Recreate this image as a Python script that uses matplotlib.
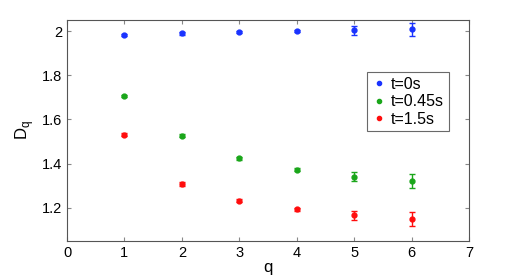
import matplotlib
matplotlib.use('Agg')
import matplotlib.pyplot as plt
from matplotlib.lines import Line2D

plt.rcParams['font.family'] = ['Liberation Sans', 'DejaVu Sans']

q = [1, 2, 3, 4, 5, 6]
d_t0 = [1.982, 1.989, 1.995, 2.000, 2.004, 2.008]
e_t0 = [0.006, 0.006, 0.006, 0.006, 0.020, 0.030]
d_t045 = [1.706, 1.527, 1.425, 1.372, 1.341, 1.321]
e_t045 = [0.006, 0.006, 0.007, 0.007, 0.019, 0.030]
d_t15 = [1.530, 1.308, 1.233, 1.193, 1.167, 1.150]
e_t15 = [0.007, 0.008, 0.008, 0.008, 0.021, 0.031]
labels = ['t=0s', 't=0.45s', 't=1.5s']
colors = ['#1a33ff', '#1aa61a', '#ff0d0d']

fig = plt.figure(figsize=(5.19, 2.76), dpi=100)
ax = fig.add_axes([67/519, 35/276, 402/519, 221/276])

handles = []
for d, e, lab, c in zip([d_t0, d_t045, d_t15], [e_t0, e_t045, e_t15], labels, colors):
    ax.errorbar(q, d, yerr=e, fmt='o', color=c, ms=3.5, capsize=2.5,
                elinewidth=1, capthick=1)
    handles.append(Line2D([], [], ls='none', marker='o', color=c, ms=3, label=lab))

ax.set_xlim(0, 7)
ax.set_ylim(1.05, 2.05)
ax.set_xticks(range(8))
ax.set_yticks([1.2, 1.4, 1.6, 1.8, 2.0])
ax.set_yticklabels(['1.2', '1.4', '1.6', '1.8', '2'])
ax.tick_params(direction='in', length=3, labelsize=10.5, top=True, right=True,
               color='#888888')
for s in ax.spines.values():
    s.set_color('#555555')
    s.set_linewidth(0.8)
ax.set_xlabel('q', fontsize=12, labelpad=0)
ax.set_ylabel('D$_\\mathregular{q}$', fontsize=12, labelpad=4)

leg = ax.legend(handles=handles, loc='upper right', bbox_to_anchor=(0.95, 0.765),
                fontsize=11.5, frameon=True, fancybox=False, handlelength=0.9,
                handletextpad=0.3, borderpad=0.3, labelspacing=0.15,
                borderaxespad=0)
leg.get_frame().set_edgecolor('#444444')
leg.get_frame().set_linewidth(0.8)

fig.savefig('out.png', dpi=100)
